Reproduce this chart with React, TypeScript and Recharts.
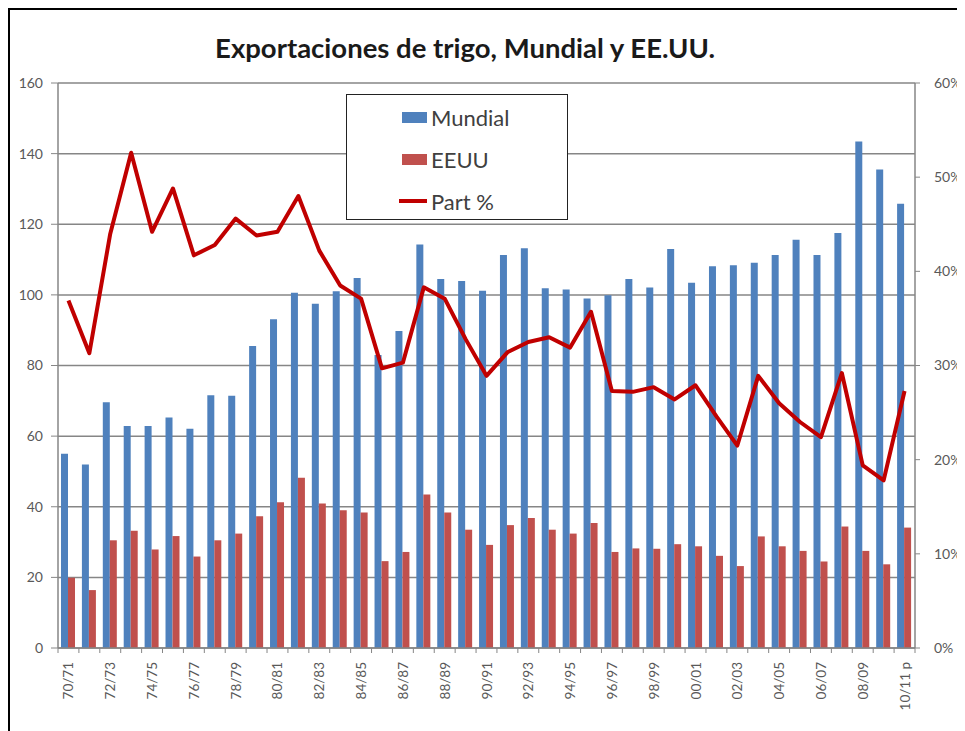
import React from "react";
import {
  Bar,
  CartesianGrid,
  ComposedChart,
  Line,
  XAxis,
  YAxis,
} from "recharts";

const categories = [
  "70/71", "71/72", "72/73", "73/74", "74/75", "75/76", "76/77", "77/78",
  "78/79", "79/80", "80/81", "81/82", "82/83", "83/84", "84/85", "85/86",
  "86/87", "87/88", "88/89", "89/90", "90/91", "91/92", "92/93", "93/94",
  "94/95", "95/96", "96/97", "97/98", "98/99", "99/00", "00/01", "01/02",
  "02/03", "03/04", "04/05", "05/06", "06/07", "07/08", "08/09", "09/10",
  "10/11 p",
];

const mundial = [
  55.0, 52.0, 69.6, 62.9, 62.9, 65.3, 62.1, 71.6, 71.4, 85.5, 93.1, 100.6,
  97.5, 101.0, 104.8, 83.0, 89.8, 114.3, 104.5, 103.9, 101.2, 111.3, 113.2,
  101.9, 101.5, 99.0, 99.9, 104.5, 102.1, 113.0, 103.4, 108.1, 108.4, 109.1,
  111.3, 115.6, 111.3, 117.5, 143.4, 135.5, 125.8,
];

const eeuu = [
  19.9, 16.4, 30.5, 33.2, 27.9, 31.7, 25.9, 30.5, 32.4, 37.3, 41.3, 48.2,
  40.9, 39.0, 38.4, 24.6, 27.2, 43.5, 38.4, 33.5, 29.2, 34.8, 36.8, 33.5,
  32.4, 35.4, 27.2, 28.2, 28.1, 29.4, 28.8, 26.1, 23.2, 31.6, 28.8, 27.5,
  24.5, 34.4, 27.5, 23.7, 34.1,
];

const partPct = [
  36.9, 31.3, 44.0, 52.6, 44.2, 48.8, 41.7, 42.8, 45.6, 43.8, 44.2, 48.0,
  42.2, 38.5, 37.1, 29.7, 30.3, 38.3, 37.1, 32.8, 28.9, 31.4, 32.5, 33.0,
  31.9, 35.7, 27.3, 27.2, 27.7, 26.4, 27.9, 24.6, 21.5, 28.9, 26.0, 24.0,
  22.4, 29.2, 19.4, 17.8, 27.3,
];

const leftTicks = [0, 20, 40, 60, 80, 100, 120, 140, 160];
const rightTicks = [0, 10, 20, 30, 40, 50, 60];

const data = categories.map((name, i) => ({
  name,
  Mundial: mundial[i],
  EEUU: eeuu[i],
  part: partPct[i],
}));

const FONT = "Lato, 'Open Sans', sans-serif";
const AXIS = "#868686";
const TXT = "#595959";
const BLUE = "#4F81BD";
const RED = "#C0504D";
const LINE = "#C00000";

const XTick = (props: any) => {
  const { x, y, payload, index } = props;
  const off = payload?.offset ?? 10.45;
  const last = index === categories.length - 1;
  return (
    <g>
      <line x1={x - off} y1={y} x2={x - off} y2={y + 5} stroke={AXIS} />
      {last && (
        <line x1={x + off} y1={y} x2={x + off} y2={y + 5} stroke={AXIS} />
      )}
      {index % 2 === 0 && (
        <text
          x={x}
          y={y + 14}
          transform={`rotate(-90, ${x}, ${y + 14})`}
          textAnchor="end"
          dominantBaseline="central"
          fill={TXT}
          fontSize={13.5}
          fontFamily={FONT}
        >
          {payload.value}
        </text>
      )}
    </g>
  );
};

const LegendBox = () => {
  const rows = [
    { label: "Mundial", kind: "bar", color: BLUE },
    { label: "EEUU", kind: "bar", color: RED },
    { label: "Part %", kind: "line", color: LINE },
  ];
  return (
    <div
      style={{
        position: "absolute",
        left: 336,
        top: 84,
        width: 222,
        height: 126,
        border: "1.5px solid #222",
        background: "#fff",
        boxSizing: "border-box",
        fontFamily: FONT,
        zIndex: 2,
      }}
    >
      {rows.map((r, i) => (
        <div
          key={r.label}
          style={{
            position: "absolute",
            left: 55,
            top: 8 + i * 42,
            height: 28,
            display: "flex",
            alignItems: "center",
          }}
        >
          {r.kind === "bar" ? (
            <div style={{ width: 25, height: 11, background: r.color }} />
          ) : (
            <div style={{ width: 28, height: 4, background: r.color, marginLeft: -3 }} />
          )}
          <span style={{ marginLeft: 4, fontSize: 22, color: "#404040" }}>
            {r.label}
          </span>
        </div>
      ))}
    </div>
  );
};

export default function App() {
  return (
    <div
      style={{
        position: "relative",
        width: 957,
        height: 723,
        borderTop: "2px solid #000",
        borderLeft: "2px solid #000",
        boxSizing: "border-box",
        background: "#fff",
      }}
    >
      <div
        style={{
          position: "absolute",
          left: 0,
          top: 21,
          width: 910,
          textAlign: "center",
          fontFamily: FONT,
          fontWeight: 700,
          fontSize: 27.5,
          color: "#1a1a1a",
          zIndex: 2,
        }}
      >
        Exportaciones de trigo, Mundial y EE.UU.
      </div>
      <LegendBox />
      <div style={{ position: "absolute", left: -2, top: -2 }}>
        <ComposedChart
          width={957}
          height={723}
          data={data}
          margin={{ top: 75, right: 0, bottom: 0, left: 0 }}
          barGap={0}
          barSize={7}
        >
          <CartesianGrid
            yAxisId="left"
            vertical={false}
            stroke={AXIS}
            strokeWidth={1.5}
          />
          <XAxis
            dataKey="name"
            interval={0}
            height={83}
            tickSize={0}
            tickMargin={0}
            tickLine={false}
            axisLine={{ stroke: AXIS, strokeWidth: 1.5 }}
            tick={<XTick />}
          />
          <YAxis
            yAxisId="left"
            width={50}
            domain={[0, 160]}
            ticks={leftTicks}
            interval={0}
            tickSize={7}
            tickMargin={8}
            axisLine={{ stroke: AXIS, strokeWidth: 1.5 }}
            tickLine={{ stroke: AXIS }}
            tick={{ fill: TXT, fontSize: 14, fontFamily: FONT }}
          />
          <YAxis
            yAxisId="right"
            orientation="right"
            width={50}
            domain={[0, 60]}
            ticks={rightTicks}
            interval={0}
            tickSize={5}
            tickMargin={14}
            tickFormatter={(v: number) => `${v}%`}
            axisLine={{ stroke: AXIS, strokeWidth: 1.5 }}
            tickLine={{ stroke: AXIS }}
            tick={{ fill: TXT, fontSize: 14, fontFamily: FONT, textAnchor: "start" }}
          />
          <Bar
            yAxisId="left"
            dataKey="Mundial"
            fill={BLUE}
            isAnimationActive={false}
          />
          <Bar
            yAxisId="left"
            dataKey="EEUU"
            fill={RED}
            isAnimationActive={false}
          />
          <Line
            yAxisId="right"
            dataKey="part"
            stroke={LINE}
            strokeWidth={4}
            dot={false}
            strokeLinejoin="round"
            isAnimationActive={false}
          />
        </ComposedChart>
      </div>
    </div>
  );
}
